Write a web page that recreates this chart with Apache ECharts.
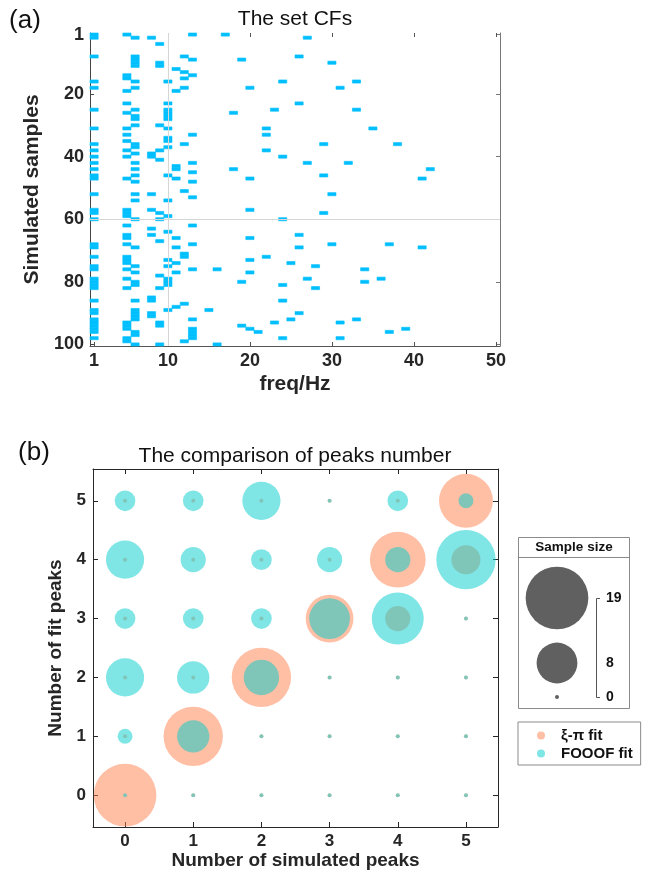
<!DOCTYPE html>
<html>
<head>
<meta charset="utf-8">
<script src="https://cdn.jsdelivr.net/npm/echarts@6/dist/echarts.min.js"></script>
<style>
  html, body { margin: 0; padding: 0; background: #fff; }
  #chart { width: 662px; height: 873px; }
</style>
</head>
<body>
<div id="chart"></div>
<script>
// ── (a) set centre frequencies (Hz) for each simulated sample, sample 1 first ──
const SAMPLE_CFS = [
  [1,5,13,17], [1,6,8,27], [], [9], [], [], [], [1,6,12,26], [6,13,19], [6,9,30],
  [6,9], [11], [12], [5,13], [5,12], [1,6,10,24,33], [], [1,6,12,20,31], [5,11], [],
  [], [], [5,10,26], [], [1,6,10,23,33], [5,10,18], [6,10], [6,10], [], [6,9],
  [1,5,10,22,35], [], [5,13,22], [10], [5,10], [1,6,12,29,38], [6,10], [1,5,9,22], [6,8], [1,5,8,24],
  [9], [1,6,13,27,32], [11], [1,6,11,18,42], [13], [1,6,10,29], [1,5,11,20,41], [6,13], [], [],
  [12], [1,6,8,30], [13], [6,10], [], [], [1,5,8,20], [1,5,9,29], [5,10], [1,6,9,24],
  [], [5,13], [8], [10], [5,8,26], [5,11,20], [9], [1,5,13,30,37], [1,6,11,26,41], [],
  [12], [1,5,12,22], [5,10,20], [5,11,25], [1,6,10,28], [1,5,13,16,34], [6,11,20], [9], [1,5,10,27,36], [1,6,10,19,34],
  [1,6,10,24], [1,5,9,28], [], [], [8], [1,6,8,24], [12], [11], [1,6,10,15], [1,6,8,26],
  [6,8], [1,6,13,25,33], [1,5,9,23,31], [1,5,9,19], [1,5,13,20,39], [1,6,13,21,37], [6,13], [1,5,13,24,31], [5,12], [6,9,16]
];
const FREQ_TICKS   = [1, 10, 20, 30, 40, 50];
const SAMPLE_TICKS = [1, 20, 40, 60, 80, 100];
const REF_FREQ   = 10;   // light reference lines
const REF_SAMPLE = 60;

// ── (b) sample counts: one row per number of simulated peaks, one entry per number of fit peaks ──
const PEAK_COUNTS = [0, 1, 2, 3, 4, 5];
const XIPI_FIT = [
  [19, 0, 0, 0, 0, 0],
  [0, 17, 0, 0, 0, 0],
  [0, 0, 17, 0, 0, 0],
  [0, 0, 0, 11, 0, 0],
  [0, 0, 0, 3, 15, 0],
  [0, 0, 0, 0, 4, 14]
];
const FOOOF_FIT = [
  [0, 1, 7, 2, 7, 2],
  [0, 5, 5, 2, 3, 2],
  [0, 0, 6, 2, 2, 7],
  [0, 0, 0, 8, 3, 0],
  [0, 0, 0, 13, 3, 2],
  [0, 0, 0, 0, 17, 1]
];
const SIZE_LEGEND = [19, 8, 0];

// ── styling ──
const FONT = '"Liberation Sans", Arial, Helvetica, sans-serif';
const INK = '#262626';
const CF_COLOR = '#00BFFF';
const XIPI_COLOR = 'rgb(255,127,75)';
const FOOOF_COLOR = 'rgb(0,204,204)';
const SIZE_MAX = 19;

// bubble area grows linearly with the count (min dot 4px, max 62.7px)
function bubbleDiameter(v) {
  return Math.sqrt(16 + (62.7 * 62.7 - 16) * v / SIZE_MAX);
}

const cfPoints = [];
SAMPLE_CFS.forEach((cfs, i) => cfs.forEach(f => cfPoints.push([f, i + 1])));

function countPoints(table) {
  const out = [];
  PEAK_COUNTS.forEach((sim, i) => PEAK_COUNTS.forEach((fit, j) => out.push([sim, fit, table[i][j]])));
  return out;
}

function tickAxis(extra) {
  return Object.assign({
    type: 'value',
    splitLine: { show: false },
    axisLine: { show: true, onZero: false, lineStyle: { color: INK, width: 1 } },
    axisTick: { show: true, inside: true, length: 5, lineStyle: { color: INK } },
    axisLabel: { show: false },
    nameTextStyle: { fontFamily: FONT, fontWeight: 'bold', color: INK }
  }, extra);
}

const labelStyle = size => ({ show: true, fontFamily: FONT, fontWeight: 'bold', fontSize: size, color: INK });

const topX = { gridIndex: 0, min: 0.5, max: 50.5 };
const topY = { gridIndex: 0, min: 0.5, max: 100.5, inverse: true };
const botX = { gridIndex: 1, min: -0.47, max: 5.47 };
const botY = { gridIndex: 1, min: -0.54, max: 5.54 };

const option = {
  animation: false,
  textStyle: { fontFamily: FONT },
  grid: [
    { left: 90, top: 33, width: 410, height: 313 },
    { left: 93, top: 469, width: 405, height: 358 }
  ],
  xAxis: [
    tickAxis(Object.assign({}, topX, {
      position: 'bottom',
      axisLine: { show: true, onZero: false, lineStyle: { color: '#555' } },
      axisTick: { show: true, inside: true, length: 4, customValues: FREQ_TICKS, lineStyle: { color: '#555' } },
      axisLabel: Object.assign(labelStyle(18), { margin: 6, customValues: FREQ_TICKS }),
      name: 'freq/Hz', nameLocation: 'middle', nameGap: 28,
      nameTextStyle: { fontFamily: FONT, fontWeight: 'bold', fontSize: 21, color: INK }
    })),
    tickAxis(Object.assign({}, topX, {
      position: 'top',
      axisLine: { show: false },
      axisTick: { show: true, inside: true, length: 4, customValues: FREQ_TICKS, lineStyle: { color: '#555' } }
    })),
    tickAxis(Object.assign({}, botX, {
      position: 'bottom',
      axisTick: { show: true, inside: true, length: 5, customValues: PEAK_COUNTS, lineStyle: { color: INK } },
      axisLabel: Object.assign(labelStyle(17), { margin: 6, customValues: PEAK_COUNTS }),
      name: 'Number of simulated peaks', nameLocation: 'middle', nameGap: 22,
      nameTextStyle: { fontFamily: FONT, fontWeight: 'bold', fontSize: 19, color: INK }
    })),
    tickAxis(Object.assign({}, botX, {
      position: 'top',
      axisTick: { show: true, inside: true, length: 5, customValues: PEAK_COUNTS, lineStyle: { color: INK } }
    }))
  ],
  yAxis: [
    tickAxis(Object.assign({}, topY, {
      position: 'left',
      axisLine: { show: true, onZero: false, lineStyle: { color: '#444' } },
      axisTick: { show: true, inside: true, length: 4, customValues: SAMPLE_TICKS, lineStyle: { color: '#444' } },
      axisLabel: Object.assign(labelStyle(18), { margin: 6, customValues: SAMPLE_TICKS }),
      name: 'Simulated samples', nameLocation: 'middle', nameGap: 37,
      nameTextStyle: { fontFamily: FONT, fontWeight: 'bold', fontSize: 21, color: INK }
    })),
    tickAxis(Object.assign({}, topY, {
      position: 'right',
      axisLine: { show: true, onZero: false, lineStyle: { color: '#777' } },
      axisTick: { show: true, inside: true, length: 4, customValues: SAMPLE_TICKS, lineStyle: { color: '#777' } }
    })),
    tickAxis(Object.assign({}, botY, {
      position: 'left',
      axisTick: { show: true, inside: true, length: 5, customValues: PEAK_COUNTS, lineStyle: { color: INK } },
      axisLabel: Object.assign(labelStyle(17), { margin: 7, customValues: PEAK_COUNTS }),
      name: 'Number of fit peaks', nameLocation: 'middle', nameGap: 14,
      nameTextStyle: { fontFamily: FONT, fontWeight: 'bold', fontSize: 19, color: INK }
    })),
    tickAxis(Object.assign({}, botY, {
      position: 'right',
      axisTick: { show: true, inside: true, length: 5, customValues: PEAK_COUNTS, lineStyle: { color: INK } }
    }))
  ],
  legend: {
    orient: 'vertical',
    left: 518, top: 722,
    padding: [6, 8, 4, 19],
    itemGap: 3,
    itemWidth: 8, itemHeight: 8,
    icon: 'circle',
    borderColor: '#8a8a8a', borderWidth: 1,
    selectedMode: false,
    textStyle: { fontFamily: FONT, fontWeight: 'bold', fontSize: 15, color: '#111', padding: [0, 0, 0, 11] },
    data: [
      { name: 'ξ-π fit', itemStyle: { color: XIPI_COLOR, opacity: 0.5 } },
      { name: 'FOOOF fit', itemStyle: { color: FOOOF_COLOR, opacity: 0.5 } }
    ]
  },
  series: [
    {
      // reference lines, kept under the CF cells
      type: 'line', xAxisIndex: 0, yAxisIndex: 0, data: [], z: 1, silent: true,
      markLine: {
        silent: true, symbol: 'none', label: { show: false },
        lineStyle: { color: '#d6d6d6', width: 1, type: 'solid' },
        data: [{ xAxis: REF_FREQ }, { yAxis: REF_SAMPLE }]
      }
    },
    {
      type: 'custom', name: 'CFs', xAxisIndex: 0, yAxisIndex: 0, z: 2,
      encode: { x: 0, y: 1 },
      data: cfPoints,
      renderItem(params, api) {
        const f = api.value(0), s = api.value(1);
        const a = api.coord([f - 0.5, s - 0.5]);
        const b = api.coord([f + 0.5, s + 0.5]);
        return {
          type: 'rect',
          shape: { x: Math.min(a[0], b[0]), y: Math.min(a[1], b[1]), width: Math.abs(b[0] - a[0]), height: Math.abs(b[1] - a[1]) },
          style: { fill: CF_COLOR, stroke: CF_COLOR, lineWidth: 0.6 }
        };
      }
    },
    {
      type: 'scatter', name: 'ξ-π fit', xAxisIndex: 2, yAxisIndex: 2, z: 3,
      data: countPoints(XIPI_FIT),
      symbol: 'circle',
      symbolSize: v => bubbleDiameter(v[2]),
      itemStyle: { color: XIPI_COLOR, opacity: 0.5 },
      emphasis: { disabled: true }
    },
    {
      type: 'scatter', name: 'FOOOF fit', xAxisIndex: 2, yAxisIndex: 2, z: 4,
      data: countPoints(FOOOF_FIT),
      symbol: 'circle',
      symbolSize: v => bubbleDiameter(v[2]),
      itemStyle: { color: FOOOF_COLOR, opacity: 0.5 },
      emphasis: { disabled: true }
    }
  ]
};

// ── titles, panel letters and the bubble-size key ──
const graphics = [
  { type: 'text', x: 25, y: 21, style: { text: '(a)', font: '26px ' + FONT, fill: '#111', align: 'center', verticalAlign: 'middle' } },
  { type: 'text', x: 295, y: 19, style: { text: 'The set CFs', font: '21px ' + FONT, fill: '#111', align: 'center', verticalAlign: 'middle' } },
  { type: 'text', x: 34, y: 453, style: { text: '(b)', font: '26px ' + FONT, fill: '#111', align: 'center', verticalAlign: 'middle' } },
  { type: 'text', x: 295, y: 456, style: { text: 'The comparison of peaks number', font: '21px ' + FONT, fill: '#111', align: 'center', verticalAlign: 'middle' } },
  { type: 'rect', shape: { x: 518.5, y: 537.5, width: 111, height: 171 }, style: { fill: '#fff', stroke: '#8a8a8a', lineWidth: 1 } },
  { type: 'line', shape: { x1: 518.5, y1: 557.5, x2: 629.5, y2: 557.5 }, style: { stroke: '#8a8a8a', lineWidth: 1 } },
  { type: 'text', x: 574, y: 547.5, style: { text: 'Sample size', font: 'bold 13.5px ' + FONT, fill: '#111', align: 'center', verticalAlign: 'middle' } },
  { type: 'polyline', shape: { points: [[600, 598.5], [596.5, 598.5], [596.5, 697.5], [600, 697.5]] }, style: { stroke: '#555', lineWidth: 1, fill: null } }
];
const keyRows = [598, 663, 697];
SIZE_LEGEND.forEach((v, i) => {
  graphics.push({ type: 'circle', shape: { cx: 557, cy: keyRows[i], r: bubbleDiameter(v) / 2 }, style: { fill: '#606060' } });
  graphics.push({ type: 'text', x: 606, y: keyRows[i], style: { text: String(v), font: 'bold 14px ' + FONT, fill: '#111', align: 'left', verticalAlign: 'middle' } });
});
option.graphic = graphics;

const chart = echarts.init(document.getElementById('chart'));
chart.setOption(option);
</script>
</body>
</html>
